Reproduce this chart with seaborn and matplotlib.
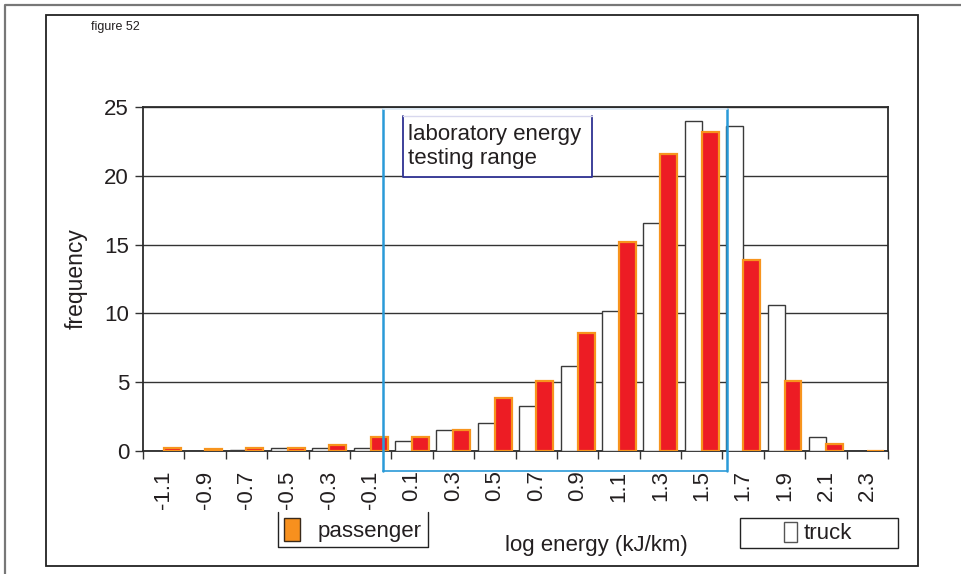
import pandas as pd
import matplotlib
matplotlib.use('Agg')
import matplotlib.pyplot as plt
from matplotlib.patches import Rectangle, Patch
from matplotlib.lines import Line2D
import seaborn as sns

# Data
categories = ['-1.1', '-0.9', '-0.7', '-0.5', '-0.3', '-0.1', '0.1', '0.3', '0.5',
              '0.7', '0.9', '1.1', '1.3', '1.5', '1.7', '1.9', '2.1', '2.3']
truck = [0.0, 0.0, 0.1, 0.2, 0.2, 0.2, 0.7, 1.55, 2.0, 3.3, 6.2, 10.15, 16.55,
         24.0, 23.6, 10.6, 1.05, 0.0]
passenger = [0.2, 0.15, 0.2, 0.2, 0.45, 1.05, 1.05, 1.55, 3.85, 5.1, 8.6, 15.2,
             21.6, 23.15, 13.9, 5.1, 0.5, 0.0]
y_ticks = [0, 5, 10, 15, 20, 25]

df = pd.DataFrame({
    'log energy': categories * 2,
    'frequency': truck + passenger,
    'type': ['truck'] * len(categories) + ['passenger'] * len(categories),
})

sns.set_style('white')
plt.rcParams['font.family'] = ['Liberation Sans', 'DejaVu Sans']
txt = '#231f20'

W, H = 961, 574
fig = plt.figure(figsize=(W / 100, H / 100), dpi=100)
ax = fig.add_axes([143 / W, 1 - 451 / H, (888 - 143) / W, (451 - 107) / H])

sns.barplot(data=df, x='log energy', y='frequency', hue='type',
            hue_order=['truck', 'passenger'], order=categories,
            palette={'truck': 'white', 'passenger': '#ED1C24'},
            saturation=1, width=0.82, gap=0, legend=False, ax=ax, zorder=3)

for bar in ax.containers[0]:
    bar.set_edgecolor('#3a3a3a')
    bar.set_linewidth(1.0)
for bar in ax.containers[1]:
    bar.set_edgecolor('#F7941D')
    bar.set_linewidth(1.6)

ax.set_xlim(-0.5, len(categories) - 0.5)
ax.set_ylim(0, 25)
ax.set_yticks(y_ticks)
ax.yaxis.grid(True, color='#333333', linewidth=1.0, zorder=0)
ax.set_axisbelow(True)
for s in ax.spines.values():
    s.set_color('#2b2b2b')
    s.set_linewidth(1.3)

ax.tick_params(axis='y', which='major', left=True, length=6, width=1,
               color='#333333', labelsize=16, labelcolor=txt, pad=4)
ax.tick_params(axis='x', which='major', bottom=False, length=0, labelsize=16,
               labelcolor=txt, labelrotation=90, pad=14)
ax.set_xticks([i - 0.5 for i in range(len(categories) + 1)], minor=True)
ax.tick_params(axis='x', which='minor', bottom=True, length=6, width=1,
               color='#333333')
ax.set_xlabel('')
ax.set_ylabel('frequency', fontsize=16.5, color=txt, labelpad=12)

# laboratory energy testing range (blue bracket)
x0 = (383 - 143) / 41.39 - 0.5
x1 = (727 - 143) / 41.39 - 0.5
blue = '#2A9AD8'
ax.plot([x0, x0], [24.85, -1.45], color=blue, lw=1.8, clip_on=False, zorder=5)
ax.plot([x1, x1], [24.85, -1.45], color=blue, lw=1.8, clip_on=False, zorder=5)
ax.plot([x0, x1], [-1.45, -1.45], color=blue, lw=1.2, clip_on=False, zorder=5)
ax.plot([x0, x1], [24.85, 24.85], color='#dbe9f4', lw=1.2, clip_on=False, zorder=5)

# text box
bx0, bx1 = (403 - 143) / 41.39 - 0.5, (592 - 143) / 41.39 - 0.5
by0, by1 = (451 - 177) / 13.76, (451 - 116) / 13.76
ax.add_patch(Rectangle((bx0, by0), bx1 - bx0, by1 - by0, facecolor='white',
                       edgecolor='none', zorder=6))
navy = '#2E3192'
ax.plot([bx0, bx0, bx1, bx1], [by1, by0, by0, by1], color=navy, lw=1.3, zorder=7)
ax.plot([bx0, bx1], [by1, by1], color='#d8d8ee', lw=1.0, zorder=7)
ax.text(bx0 + 0.12, (by0 + by1) / 2, 'laboratory energy\ntesting range',
        fontsize=16, color=txt, va='center', ha='left', linespacing=1.15, zorder=8)

# figure texts
fig.text(91 / W, 1 - 27 / H, 'figure 52', fontsize=9, color=txt, va='center')
fig.text(596 / W, 1 - 545 / H, 'log energy (kJ/km)', fontsize=16, color=txt,
         ha='center', va='center')

# legends
leg1 = fig.legend(handles=[Patch(facecolor='#F7901E', edgecolor='#3a2a1a', lw=1)],
                  labels=['passenger'], loc='center',
                  bbox_to_anchor=(353 / W, 1 - 530 / H), fontsize=16,
                  frameon=False, handlelength=0.7, handleheight=1.2,
                  handletextpad=0.8, borderpad=0.25, borderaxespad=0)
for t in leg1.get_texts():
    t.set_color(txt)
leg2 = fig.legend(handles=[Patch(facecolor='white', edgecolor='#555555', lw=1)],
                  labels=['truck'], loc='center',
                  bbox_to_anchor=(818 / W, 1 - 533 / H), fontsize=16,
                  frameon=False, handlelength=0.6, handleheight=1.0,
                  handletextpad=0.3, borderpad=0.2, borderaxespad=0)
for t in leg2.get_texts():
    t.set_color(txt)
fig.add_artist(Line2D([278 / W, 278 / W, 428 / W, 428 / W],
                      [1 - 512 / H, 1 - 547 / H, 1 - 547 / H, 1 - 512 / H],
                      transform=fig.transFigure, color='#222222', lw=1.0))
fig.add_artist(Rectangle((740 / W, 1 - 548 / H), (898 - 740) / W, 30 / H,
                         transform=fig.transFigure, fill=False,
                         edgecolor='#222222', lw=1.0))

# outer frames
fig.add_artist(Line2D([5 / W, 5 / W, 1], [0, 1 - 5 / H, 1 - 5 / H],
                      transform=fig.transFigure, color='#777777', lw=1.6))
fig.add_artist(Rectangle((46 / W, 1 - 566 / H), (918 - 46) / W, (566 - 15) / H,
                         transform=fig.transFigure, fill=False,
                         edgecolor='#222222', lw=1.3))

fig.savefig('out.png', dpi=100)
